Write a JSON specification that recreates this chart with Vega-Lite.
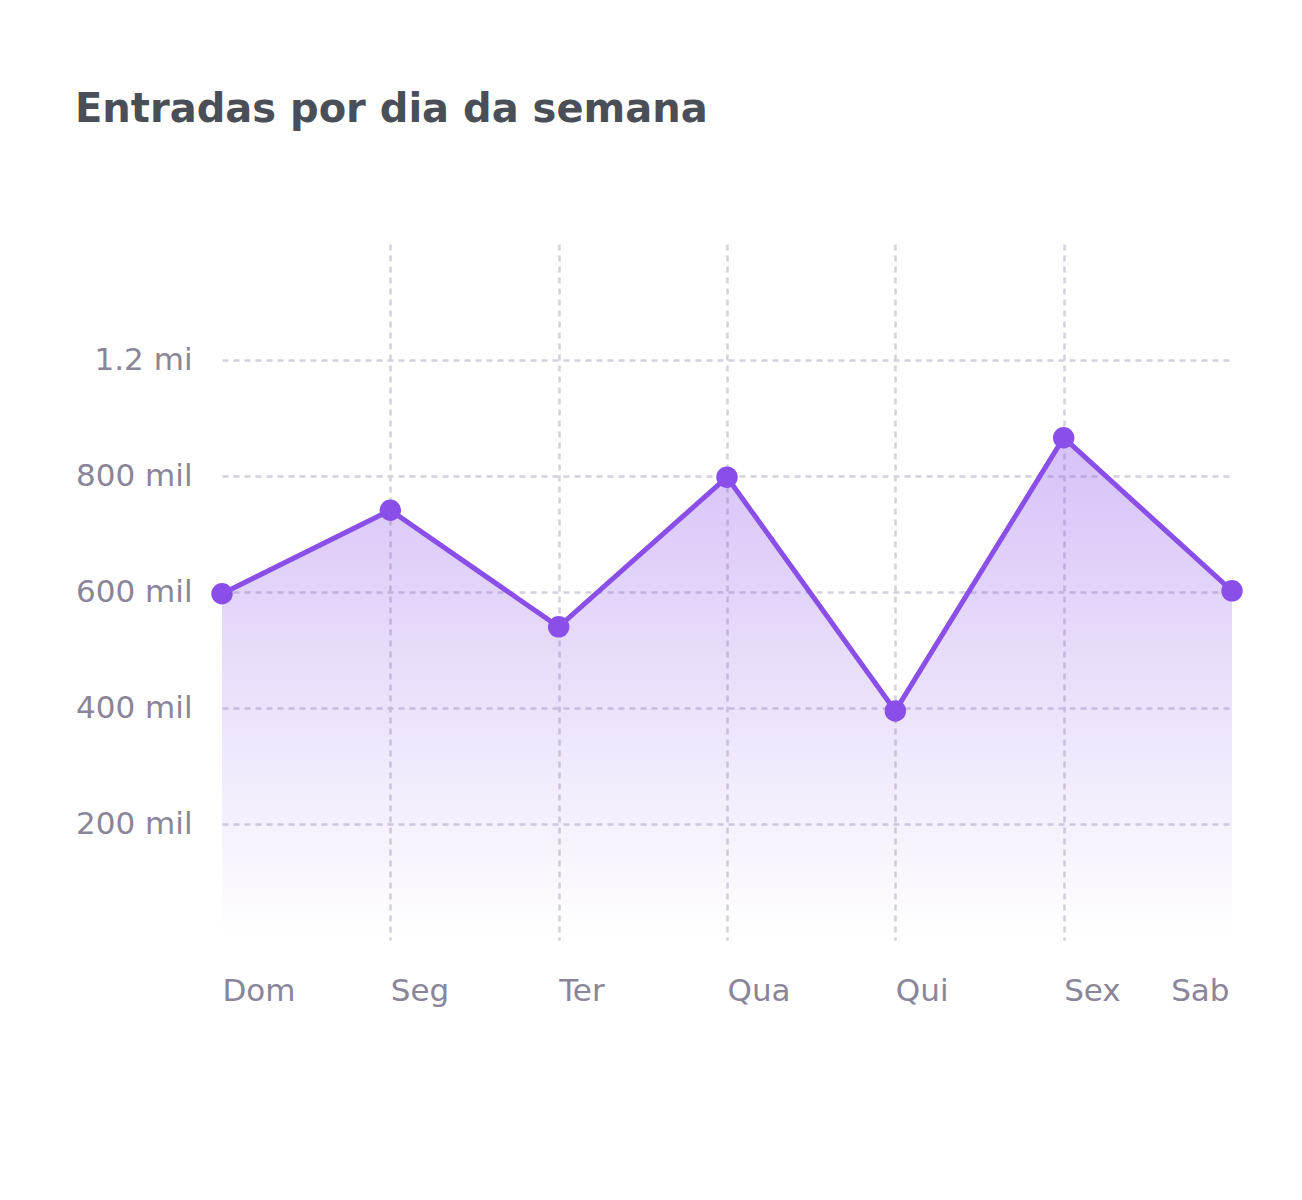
{
  "$schema": "https://vega.github.io/schema/vega-lite/v6.json",
  "width": 1010,
  "height": 696,
  "autosize": {"type": "none"},
  "padding": {"left": 222, "top": 244, "right": 70, "bottom": 260},
  "background": "white",
  "title": {
    "text": "Entradas por dia da semana",
    "anchor": "start",
    "frame": "group",
    "dx": -147,
    "offset": 114,
    "font": "DejaVu Sans",
    "fontSize": 40,
    "fontWeight": "bold",
    "color": "#4a4e57"
  },
  "config": {"view": {"stroke": null}},
  "data": {
    "values": [
      {"dia": "Dom", "entradas": 597},
      {"dia": "Seg", "entradas": 741},
      {"dia": "Ter", "entradas": 540},
      {"dia": "Qua", "entradas": 798},
      {"dia": "Qui", "entradas": 395},
      {"dia": "Sex", "entradas": 866},
      {"dia": "Sab", "entradas": 602}
    ]
  },
  "encoding": {
    "x": {
      "field": "dia",
      "type": "ordinal",
      "sort": ["Dom", "Seg", "Ter", "Qua", "Qui", "Sex", "Sab"],
      "scale": {"type": "point", "padding": 0},
      "axis": {
        "title": null,
        "domain": false,
        "ticks": false,
        "labelAngle": 0,
        "labelAlign": {"condition": {"test": "datum.value == 'Sab'", "value": "right"}, "value": "left"},
        "labelOffset": {"condition": {"test": "datum.value == 'Sab'", "value": -3}, "value": 0},
        "labelPadding": 36,
        "labelFont": "DejaVu Sans",
        "labelFontSize": 31,
        "labelColor": "#8a8599",
        "grid": true,
        "gridDash": [6, 5],
        "gridColor": "#d4d0dc",
        "gridWidth": 2.5,
        "gridOpacity": {"condition": {"test": "datum.value == 'Dom' || datum.value == 'Sab'", "value": 0}, "value": 1}
      }
    },
    "y": {
      "field": "entradas",
      "type": "quantitative",
      "scale": {"domain": [0, 1200], "nice": false},
      "axis": {
        "title": null,
        "domain": false,
        "ticks": false,
        "values": [200, 400, 600, 800, 1000],
        "labelExpr": "datum.value == 1000 ? '1.2 mi' : datum.value + ' mil'",
        "labelPadding": 30,
        "labelFont": "DejaVu Sans",
        "labelFontSize": 31,
        "labelColor": "#8a8599",
        "grid": true,
        "gridDash": [6, 5],
        "gridColor": "#d4d0dc",
        "gridWidth": 2.5
      }
    }
  },
  "layer": [
    {
      "mark": {
        "type": "area",
        "color": {
          "gradient": "linear",
          "x1": 1, "y1": 1, "x2": 1, "y2": 0,
          "stops": [
            {"offset": 0, "color": "rgba(138,79,232,0)"},
            {"offset": 1, "color": "rgba(138,79,232,0.35)"}
          ]
        }
      }
    },
    {
      "mark": {"type": "line", "color": "#8a4fe8", "strokeWidth": 5}
    },
    {
      "mark": {"type": "point", "filled": true, "size": 460, "opacity": 1, "color": "#8a4fe8"}
    }
  ]
}
